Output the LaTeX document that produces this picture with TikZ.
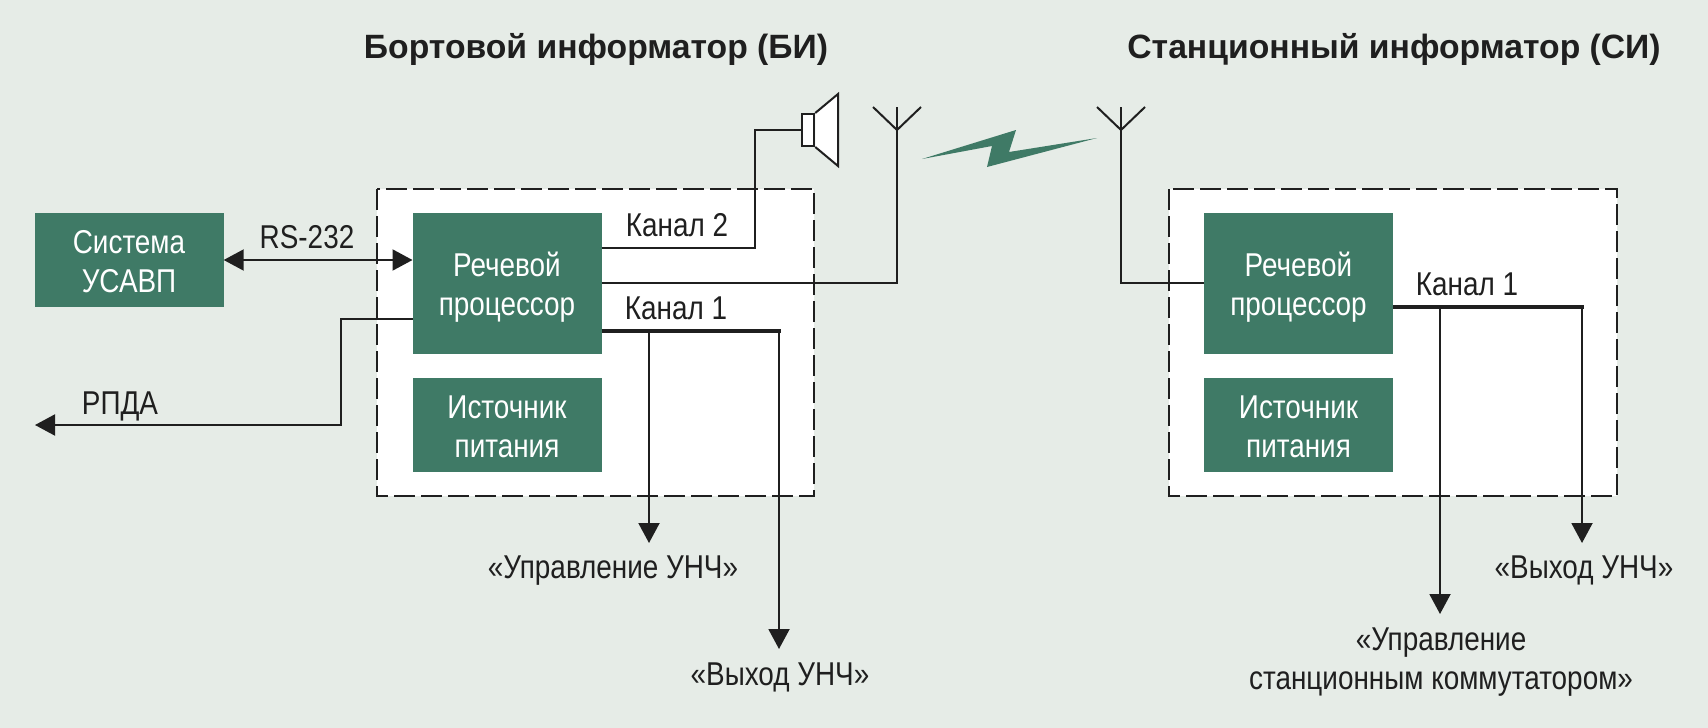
\documentclass[tikz,border=0pt]{standalone}
\usepackage{fontspec}
\setmainfont[FakeStretch=0.845]{Liberation Sans}
\newfontfamily\headfont{Liberation Sans}
\usetikzlibrary{arrows.meta}

\definecolor{bgcol}{HTML}{E6ECE7}
\definecolor{boxcol}{HTML}{3F7A66}
\definecolor{inkcol}{HTML}{1F1F1F}

\tikzset{
	greenbox/.style={fill=boxcol, text=white, minimum width=189pt, inner sep=0pt, align=center, font=\fontsize{33}{39}\selectfont},
	sigtext/.style={text=inkcol, inner sep=0pt, anchor=base, font=\fontsize{33}{39}\selectfont},
	headtext/.style={text=inkcol, inner sep=0pt, anchor=base, font=\headfont\bfseries\fontsize{33.7}{40}\selectfont},
	frameline/.style={draw=inkcol, line width=2pt, fill=white, dash pattern=on 21pt off 6pt},
	sigline/.style={draw=inkcol, line width=2pt},
	busline/.style={draw=inkcol, line width=4.5pt},
	sigarrow/.style={sigline, -{Triangle[width=21pt,length=20pt]}},
	sigboth/.style={sigline, {Triangle[width=21pt,length=20pt]}-{Triangle[width=21pt,length=20pt]}}
}

\begin{document}
\begin{tikzpicture}[x=1pt,y=-1pt]

	%Background
	\fill[bgcol] (0,0) rectangle (1708,728);

	%Titles
	\node[headtext] (titleBI) at (596,58) {Бортовой информатор (БИ)};
	\node[headtext] (titleSI) at (1394,58) {Станционный информатор (СИ)};

	%Frames
	\draw[frameline] (377,189) rectangle (814,496);
	\draw[frameline] (1169,189) rectangle (1617,496);

	%Blocks
	\node[greenbox, minimum height=94pt] (sys) at (129,260) {\rule{0pt}{27pt}Система\\УСАВП};
	\node[greenbox, minimum height=141pt] (procA) at (507,283.5) {\rule{0pt}{32pt}Речевой\\процессор};
	\node[greenbox, minimum height=94pt] (powerA) at (507,425) {\rule{0pt}{27pt}Источник\\питания};
	\node[greenbox, minimum height=141pt] (procB) at (1298.5,283.5) {\rule{0pt}{32pt}Речевой\\процессор};
	\node[greenbox, minimum height=94pt] (powerB) at (1298.5,425) {\rule{0pt}{27pt}Источник\\питания};

	%Speaker
	\node[draw=inkcol, line width=2pt, fill=white, minimum width=12.5pt, minimum height=32pt, inner sep=0pt] (spk) at (808,130) {};
	\draw[sigline, fill=white] (spk.north east) -- (838,94) -- (838,166) -- (spk.south east);

	%Antennas
	\coordinate (antA) at (897,130);
	\coordinate (antB) at (1121,130);
	\draw[sigline] (873,107) -- (antA) -- (921,107);
	\draw[sigline] (897,107) -- (antA);
	\draw[sigline] (1097,107) -- (antB) -- (1145,107);
	\draw[sigline] (1121,107) -- (antB);

	%Radio link
	\fill[boxcol] (922,159) -- (992,146) -- (987,167) -- (1097,138) -- (1009,152) -- (1016,130) -- cycle;

	%Connections A
	\coordinate (rsA) at (412.5,260);
	\coordinate (ch2A) at (601.5,248);
	\coordinate (antlineA) at (601.5,283);
	\coordinate (outA) at (412.5,319);
	\coordinate (rpda) at (35,425);
	\draw[sigboth] (sys.east) -- (rsA);
	\draw[sigline] (ch2A) -- (755,248) -- (755,130) -- (spk.west);
	\draw[sigline] (antlineA) -| (antA);
	\draw[sigarrow] (outA) -- (341,319) -- (341,425) -- (rpda);

	%Channel 1 A
	\coordinate (busAl) at (601.5,331);
	\coordinate (busAm) at (649,331);
	\coordinate (busAr) at (781,331);
	\coordinate (busAd) at (779,331);
	\draw[sigarrow] (busAm) -- (649,543);
	\draw[sigarrow] (busAd) -- (779,649);
	\draw[busline] (busAl) -- (busAr);

	%Connections B
	\coordinate (antlineB) at (1204,283);
	\draw[sigline] (antlineB) -| (antB);

	%Channel 1 B
	\coordinate (busBl) at (1393,307);
	\coordinate (busBm) at (1440,307);
	\coordinate (busBr) at (1584,307);
	\coordinate (busBd) at (1582,307);
	\draw[sigarrow] (busBm) -- (1440,614);
	\draw[sigarrow] (busBd) -- (1582,543);
	\draw[busline] (busBl) -- (busBr);

	%Labels
	\node[sigtext] (rs) at (307,248) {RS-232};
	\node[sigtext] (rpdatext) at (120,414) {РПДА};
	\node[sigtext] (ch2text) at (677,236) {Канал 2};
	\node[sigtext] (ch1textA) at (676,319) {Канал 1};
	\node[sigtext] (ch1textB) at (1467,295) {Канал 1};
	\node[sigtext] (ampctrl) at (613,578) {«Управление УНЧ»};
	\node[sigtext] (ampoutA) at (780,685) {«Выход УНЧ»};
	\node[sigtext] (ampoutB) at (1584,578) {«Выход УНЧ»};
	\node[sigtext, anchor=center, align=center] (swctrl) at (1441,662) {«Управление\\станционным коммутатором»};

\end{tikzpicture}
\end{document}
